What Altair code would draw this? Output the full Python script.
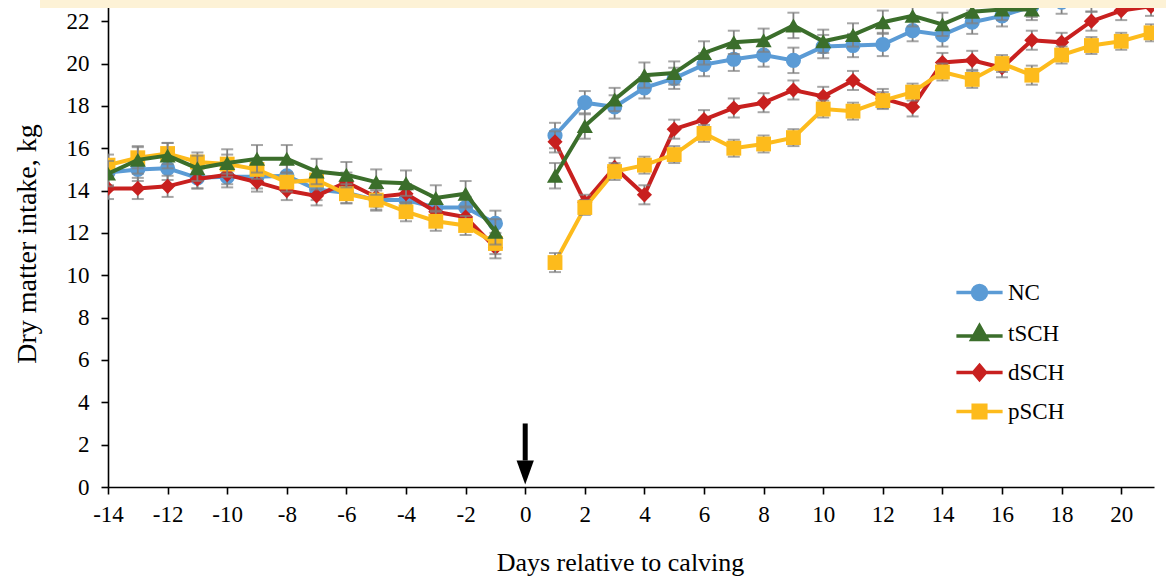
import altair as alt
import pandas as pd

# ---------------- data ----------------
days_pre = list(range(-14, 0))
days_post = list(range(1, 22))

series_names = ["NC", "tSCH", "dSCH", "pSCH"]
series_colors = ["#5B9BD5", "#3B6E2B", "#C8201F", "#FDBB1C"]
draw_order = ["NC", "dSCH", "pSCH", "tSCH"]

nc_pre = [14.85, 15.0, 15.05, 14.6, 14.65, 14.65, 14.7, 14.05, 13.9, 13.55, 13.55, 13.2, 13.2, 12.45]
nc_post = [16.6, 18.15, 17.95, 18.85, 19.3, 19.95, 20.2, 20.4, 20.15, 20.8, 20.85, 20.9, 21.55,
           21.35, 21.95, 22.25, 22.7, 22.9, 23.0, 23.3, 23.5]
tsch_pre = [14.8, 15.45, 15.65, 15.05, 15.3, 15.5, 15.5, 14.9, 14.75, 14.4, 14.35, 13.65, 13.85, 12.05]
tsch_post = [14.7, 17.05, 18.3, 19.45, 19.55, 20.5, 21.0, 21.1, 21.8, 21.05, 21.35, 21.95, 22.25,
             21.85, 22.45, 22.55, 22.55, 23.3, 23.5, 23.7, 23.9]
dsch_pre = [14.1, 14.1, 14.2, 14.55, 14.75, 14.4, 14.0, 13.75, 14.4, 13.7, 13.85, 13.0, 12.75, 11.3]
dsch_post = [16.3, 13.45, 15.1, 13.8, 16.9, 17.35, 17.9, 18.15, 18.75, 18.45, 19.2, 18.35, 17.95,
             20.05, 20.15, 19.8, 21.1, 21.0, 22.0, 22.5, 22.7]
psch_pre = [15.2, 15.55, 15.75, 15.35, 15.25, 15.0, 14.4, 14.5, 13.85, 13.55, 13.0, 12.55, 12.35, 11.5]
psch_post = [10.6, 13.2, 14.9, 15.2, 15.7, 16.7, 16.0, 16.2, 16.5, 17.85, 17.75, 18.25, 18.65,
             19.6, 19.25, 20.0, 19.45, 20.4, 20.85, 21.05, 21.45]

# standard errors (pre 14 values, post 21 values)
nc_se = [0.6, 0.55, 0.55, 0.5, 0.5, 0.55, 0.55, 0.5, 0.5, 0.5, 0.5, 0.5, 0.5, 0.6,
         0.6, 0.55, 0.55, 0.5, 0.5, 0.55, 0.55, 0.55, 0.6, 0.55, 0.55, 0.55, 0.5,
         0.55, 0.55, 0.5, 0.5, 0.55, 0.55, 0.55, 0.55]
tsch_se = [0.6, 0.65, 0.6, 0.6, 0.65, 0.65, 0.65, 0.6, 0.6, 0.6, 0.6, 0.6, 0.6, 0.6,
           0.6, 0.6, 0.55, 0.6, 0.55, 0.55, 0.55, 0.55, 0.6, 0.55, 0.55, 0.55, 0.5,
           0.55, 0.55, 0.5, 0.5, 0.55, 0.55, 0.55, 0.55]
dsch_se = [0.5, 0.5, 0.5, 0.45, 0.45, 0.45, 0.45, 0.45, 0.45, 0.45, 0.45, 0.45, 0.45, 0.5,
           0.5, 0.35, 0.45, 0.45, 0.45, 0.45, 0.45, 0.45, 0.45, 0.45, 0.45, 0.45, 0.45,
           0.45, 0.45, 0.45, 0.45, 0.45, 0.45, 0.45, 0.45]
psch_se = [0.5, 0.5, 0.5, 0.45, 0.45, 0.45, 0.45, 0.45, 0.45, 0.45, 0.45, 0.45, 0.45, 0.5,
           0.45, 0.35, 0.4, 0.4, 0.4, 0.4, 0.4, 0.4, 0.4, 0.4, 0.4, 0.4, 0.4,
           0.4, 0.4, 0.4, 0.45, 0.4, 0.4, 0.4, 0.4]

pre_vals = {"NC": nc_pre, "tSCH": tsch_pre, "dSCH": dsch_pre, "pSCH": psch_pre}
post_vals = {"NC": nc_post, "tSCH": tsch_post, "dSCH": dsch_post, "pSCH": psch_post}
se_vals = {"NC": nc_se, "tSCH": tsch_se, "dSCH": dsch_se, "pSCH": psch_se}

x_ticks = list(range(-14, 21, 2))
y_ticks = list(range(0, 23, 2))

# calving arrow (at day 0)
arrow_day = [0]
arrow_top = [3.0]
arrow_shaft_end = [1.25]
arrow_head = [0.68]

rows = []
for s in series_names:
    vals = pre_vals[s] + post_vals[s]
    days = days_pre + days_post
    for i, (d, v) in enumerate(zip(days, vals)):
        se = se_vals[s][i]
        rows.append({"series": s, "day": d, "period": "pre" if d < 0 else "post",
                     "value": v, "lo": v - se, "hi": v + se})
df = pd.DataFrame(rows)

FONT = "Liberation Serif"
color_of = dict(zip(series_names, series_colors))
shape_of = {"NC": "circle", "tSCH": "triangle-up", "dSCH": "diamond", "pSCH": "square"}
size_of = {"NC": 230, "tSCH": 260, "dSCH": 230, "pSCH": 220}

x_scale = alt.Scale(domain=[-14, 21.1], nice=False, zero=False)
y_scale = alt.Scale(domain=[0, 23], nice=False, zero=True)

x_enc = alt.X("day:Q", scale=x_scale,
              axis=alt.Axis(values=x_ticks, title="Days relative to calving",
                            labelExpr="'' + datum.value", labelPadding=9,
                            labelFlush=False, titlePadding=23, titleX=512))
y_enc = alt.Y("value:Q", scale=y_scale,
              axis=alt.Axis(values=y_ticks, title="Dry matter intake, kg",
                            labelPadding=12, titlePadding=25, titleFontSize=28))

base = alt.Chart(df)
layers = []
for s in draw_order:
    d = base.transform_filter(alt.datum.series == s)
    col = color_of[s]
    line = d.mark_line(color=col, strokeWidth=4, clip=True).encode(
        x=x_enc, y=y_enc, detail="period:N")
    bar = d.mark_rule(color="#808080", strokeWidth=1.8, clip=True).encode(
        x="day:Q", y="lo:Q", y2="hi:Q")
    cap_hi = d.mark_tick(color="#808080", orient="horizontal", size=12, thickness=2,
                         clip=True).encode(x="day:Q", y="hi:Q")
    cap_lo = d.mark_tick(color="#808080", orient="horizontal", size=12, thickness=2,
                         clip=True).encode(x="day:Q", y="lo:Q")
    pts = d.mark_point(color=col, filled=True, opacity=1, shape=shape_of[s],
                       size=size_of[s], clip=True).encode(x="day:Q", y="value:Q")
    layers += [line, bar, cap_hi, cap_lo, pts]

# arrow at calving
arrow_df = pd.DataFrame({"day": arrow_day, "top": arrow_top,
                         "end": arrow_shaft_end, "head": arrow_head})
arrow_shaft = alt.Chart(arrow_df).mark_rule(color="black", strokeWidth=5).encode(
    x="day:Q", y="top:Q", y2="end:Q")
arrow_tip = alt.Chart(arrow_df).mark_point(
    shape="M-0.72,-1L0.72,-1L0,1Z", size=576, filled=True, color="black", opacity=1
).encode(x="day:Q", y="head:Q")
layers += [arrow_shaft, arrow_tip]

# legend (symbols with line through the marker)
legend_paths = [
    "M-3.3,0L3.3,0M-1,0A1,1,0,1,0,1,0A1,1,0,1,0,-1,0Z",
    "M-3.3,0.35L3.3,0.35M0,-1.1L1.1,0.85L-1.1,0.85Z",
    "M-3.3,0L3.3,0M0,-1L0.85,0L0,1L-0.85,0Z",
    "M-3.3,0L3.3,0M-0.9,-0.9L0.9,-0.9L0.9,0.9L-0.9,0.9Z",
]


def leg():
    return alt.Legend(title=None, orient="none", legendX=860, legendY=281,
                      labelFont=FONT, labelFontSize=23, labelColor="black",
                      labelOffset=17, rowPadding=11, symbolSize=196,
                      symbolStrokeWidth=3.5)


leg_df = pd.DataFrame({"series": series_names})
legend_layer = alt.Chart(leg_df).mark_point(filled=True, size=196, strokeWidth=3.5,
                                            opacity=1).encode(
    fill=alt.Fill("series:N", scale=alt.Scale(domain=series_names, range=series_colors),
                  legend=leg()),
    stroke=alt.Stroke("series:N", scale=alt.Scale(domain=series_names, range=series_colors),
                      legend=leg()),
    shape=alt.Shape("series:N", scale=alt.Scale(domain=series_names, range=legend_paths),
                    legend=leg()),
).transform_filter("false")
layers.append(legend_layer)

# cream band at the top edge of the picture
band = alt.Chart(pd.DataFrame({"k": [0]})).mark_rect(color="#FDF2D6", clip=False).encode(
    x=alt.value(-68), x2=alt.value(1060), y=alt.value(0), y2=alt.value(8))
layers.append(band)

chart = alt.layer(*layers).properties(
    width=1046, height=487,
    autosize=alt.AutoSizeParams(type="none"),
    padding={"left": 108, "top": 0, "right": 12, "bottom": 96},
    background="white",
).configure_view(stroke=None).configure_axis(
    grid=False, domainColor="black", domainWidth=1.6, tickColor="black", tickWidth=1.6,
    tickSize=7, labelFont=FONT, labelFontSize=23, labelColor="black",
    titleFont=FONT, titleFontSize=26, titleFontWeight="normal", titleColor="black",
)

chart.save("out.html", embed_options={"renderer": "svg", "actions": False})
